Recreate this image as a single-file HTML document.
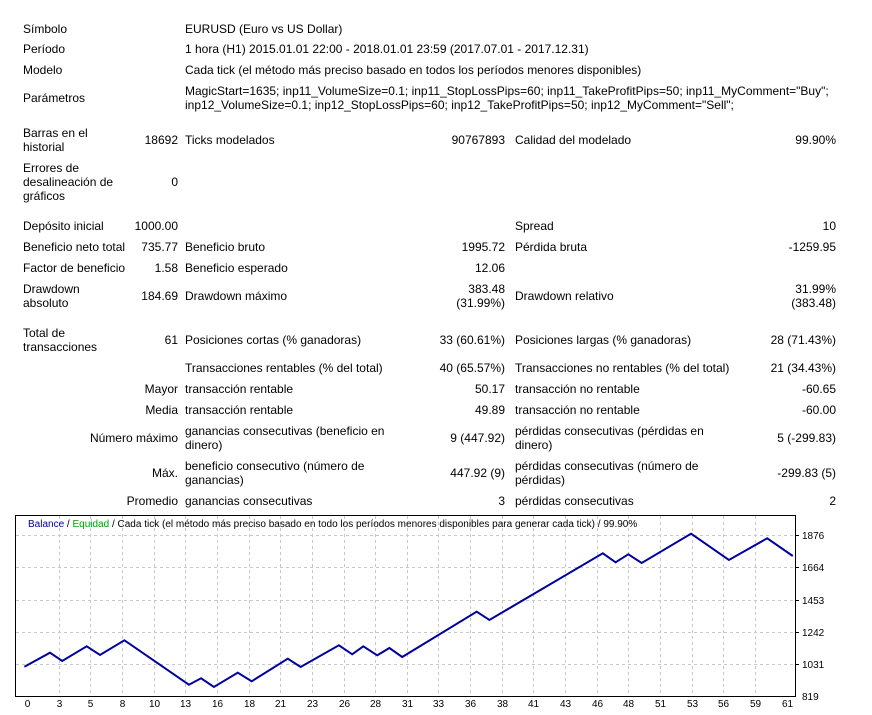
<!DOCTYPE html>
<html><head><meta charset="utf-8"><style>
body{margin:0;background:#fff;width:872px;height:715px;position:relative;overflow:hidden;font-family:"Liberation Sans",sans-serif;font-size:12px;color:#000}
div.t{position:absolute;line-height:14px;white-space:nowrap}
.r{text-align:right}
</style></head><body>
<div class="t" style="left:23px;top:22px">Símbolo</div><div class="t" style="left:185px;top:22px">EURUSD (Euro vs US Dollar)</div>
<div class="t" style="left:23px;top:42px">Período</div><div class="t" style="left:185px;top:42px">1 hora (H1) 2015.01.01 22:00 - 2018.01.01 23:59 (2017.07.01 - 2017.12.31)</div>
<div class="t" style="left:23px;top:63px">Modelo</div><div class="t" style="left:185px;top:63px">Cada tick (el método más preciso basado en todos los períodos menores disponibles)</div>
<div class="t" style="left:23px;top:91px">Parámetros</div>
<div class="t" style="left:185px;top:84px">MagicStart=1635; inp11_VolumeSize=0.1; inp11_StopLossPips=60; inp11_TakeProfitPips=50; inp11_MyComment="Buy";<br>inp12_VolumeSize=0.1; inp12_StopLossPips=60; inp12_TakeProfitPips=50; inp12_MyComment="Sell";</div>

<div class="t" style="left:23px;top:126px">Barras en el<br>historial</div><div class="t r" style="right:694px;top:133px">18692</div>
<div class="t" style="left:185px;top:133px">Ticks modelados</div><div class="t r" style="right:367px;top:133px">90767893</div>
<div class="t" style="left:515px;top:133px">Calidad del modelado</div><div class="t r" style="right:36px;top:133px">99.90%</div>

<div class="t" style="left:23px;top:161px">Errores de<br>desalineación de<br>gráficos</div><div class="t r" style="right:694px;top:175px">0</div>

<div class="t" style="left:23px;top:219px">Depósito inicial</div><div class="t r" style="right:694px;top:219px">1000.00</div>
<div class="t" style="left:515px;top:219px">Spread</div><div class="t r" style="right:36px;top:219px">10</div>

<div class="t" style="left:23px;top:240px">Beneficio neto total</div><div class="t r" style="right:694px;top:240px">735.77</div>
<div class="t" style="left:185px;top:240px">Beneficio bruto</div><div class="t r" style="right:367px;top:240px">1995.72</div>
<div class="t" style="left:515px;top:240px">Pérdida bruta</div><div class="t r" style="right:36px;top:240px">-1259.95</div>

<div class="t" style="left:23px;top:261px">Factor de beneficio</div><div class="t r" style="right:694px;top:261px">1.58</div>
<div class="t" style="left:185px;top:261px">Beneficio esperado</div><div class="t r" style="right:367px;top:261px">12.06</div>

<div class="t" style="left:23px;top:282px">Drawdown<br>absoluto</div><div class="t r" style="right:694px;top:289px">184.69</div>
<div class="t" style="left:185px;top:289px">Drawdown máximo</div><div class="t r" style="right:367px;top:282px">383.48<br>(31.99%)</div>
<div class="t" style="left:515px;top:289px">Drawdown relativo</div><div class="t r" style="right:36px;top:282px">31.99%<br>(383.48)</div>

<div class="t" style="left:23px;top:326px">Total de<br>transacciones</div><div class="t r" style="right:694px;top:333px">61</div>
<div class="t" style="left:185px;top:333px">Posiciones cortas (% ganadoras)</div><div class="t r" style="right:367px;top:333px">33 (60.61%)</div>
<div class="t" style="left:515px;top:333px">Posiciones largas (% ganadoras)</div><div class="t r" style="right:36px;top:333px">28 (71.43%)</div>

<div class="t" style="left:185px;top:361px">Transacciones rentables (% del total)</div><div class="t r" style="right:367px;top:361px">40 (65.57%)</div>
<div class="t" style="left:515px;top:361px">Transacciones no rentables (% del total)</div><div class="t r" style="right:36px;top:361px">21 (34.43%)</div>

<div class="t r" style="right:694px;top:382px">Mayor</div>
<div class="t" style="left:185px;top:382px">transacción rentable</div><div class="t r" style="right:367px;top:382px">50.17</div>
<div class="t" style="left:515px;top:382px">transacción no rentable</div><div class="t r" style="right:36px;top:382px">-60.65</div>

<div class="t r" style="right:694px;top:403px">Media</div>
<div class="t" style="left:185px;top:403px">transacción rentable</div><div class="t r" style="right:367px;top:403px">49.89</div>
<div class="t" style="left:515px;top:403px">transacción no rentable</div><div class="t r" style="right:36px;top:403px">-60.00</div>

<div class="t r" style="right:694px;top:431px">Número máximo</div>
<div class="t" style="left:185px;top:424px">ganancias consecutivas (beneficio en<br>dinero)</div><div class="t r" style="right:367px;top:431px">9 (447.92)</div>
<div class="t" style="left:515px;top:424px">pérdidas consecutivas (pérdidas en<br>dinero)</div><div class="t r" style="right:36px;top:431px">5 (-299.83)</div>

<div class="t r" style="right:694px;top:466px">Máx.</div>
<div class="t" style="left:185px;top:459px">beneficio consecutivo (número de<br>ganancias)</div><div class="t r" style="right:367px;top:466px">447.92 (9)</div>
<div class="t" style="left:515px;top:459px">pérdidas consecutivas (número de<br>pérdidas)</div><div class="t r" style="right:36px;top:466px">-299.83 (5)</div>

<div class="t r" style="right:694px;top:494px">Promedio</div>
<div class="t" style="left:185px;top:494px">ganancias consecutivas</div><div class="t r" style="right:367px;top:494px">3</div>
<div class="t" style="left:515px;top:494px">pérdidas consecutivas</div><div class="t r" style="right:36px;top:494px">2</div>

<svg style="position:absolute;left:0;top:0" width="872" height="715" font-family="Liberation Sans, sans-serif" font-size="10">
<rect x="15.5" y="515.5" width="780" height="181" fill="#fff" stroke="#000"/>
<g stroke="#c8c8c8" stroke-dasharray="3,3">
<line x1="16" y1="535.5" x2="795" y2="535.5"/><line x1="16" y1="567.5" x2="795" y2="567.5"/><line x1="16" y1="600.5" x2="795" y2="600.5"/><line x1="16" y1="632.5" x2="795" y2="632.5"/><line x1="16" y1="664.5" x2="795" y2="664.5"/>
</g>
<g stroke="#c8c8c8" stroke-dasharray="3,3" id="vg"></g>
<g stroke="#000">
<line x1="795.5" y1="516" x2="795.5" y2="697"/>
<line x1="795" y1="535.5" x2="799" y2="535.5"/><line x1="795" y1="567.5" x2="799" y2="567.5"/><line x1="795" y1="600.5" x2="799" y2="600.5"/><line x1="795" y1="632.5" x2="799" y2="632.5"/><line x1="795" y1="664.5" x2="799" y2="664.5"/>
</g>
<g fill="#000">
<text x="802" y="539">1876</text><text x="802" y="571">1664</text><text x="802" y="604">1453</text><text x="802" y="636">1242</text><text x="802" y="668">1031</text><text x="802" y="700">819</text>
</g>
<g fill="#000" text-anchor="middle" id="xl"></g>
<polyline fill="none" stroke="#00009c" stroke-width="2" points="24.4,666.7 50,652.7 62.2,661 86.7,646.3 100,655 124.4,640.3 188.9,684.7 201.1,678.3 213.9,687 237.8,672.7 251.7,681.3 287.8,658.7 300.6,667 338.9,645.3 352.2,654.3 363.3,646.3 377.2,655.3 389.4,648 402.2,657 476.7,611.7 489.4,620 602.8,553.3 615.6,562.3 628.3,554.3 641.7,563 691.1,533.7 728.9,560 767.2,538.3 792.8,556"/>
<text x="28" y="527" font-size="10"><tspan fill="#00009c">Balance</tspan> / <tspan fill="#00a000">Equidad</tspan> / Cada tick (el método más preciso basado en todo los períodos menores disponibles para generar cada tick)  / 99.90%</text>
</svg>
<script>
var vg=document.getElementById('vg'),xl=document.getElementById('xl'),ns='http://www.w3.org/2000/svg';
var labs=[0,3,5,8,10,13,16,18,21,23,26,28,31,33,36,38,41,43,46,48,51,53,56,59,61];
for(var k=0;k<25;k++){var x=Math.round(27+k*31.65)+0.5;
if(k>0&&k<24){var l=document.createElementNS(ns,'line');l.setAttribute('x1',x);l.setAttribute('x2',x);l.setAttribute('y1',516);l.setAttribute('y2',696);vg.appendChild(l);}
var t=document.createElementNS(ns,'text');t.setAttribute('x',x);t.setAttribute('y',707);t.textContent=labs[k];xl.appendChild(t);}
</script>
</body></html>
